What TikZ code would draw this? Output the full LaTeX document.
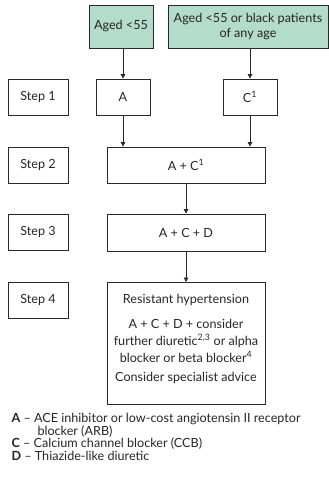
\documentclass[tikz,border=0pt]{standalone}
\usepackage{fontspec}
\setmainfont{Lato}
\usetikzlibrary{arrows.meta}
\definecolor{agegreen}{RGB}{179,220,202}
\definecolor{linegray}{RGB}{40,40,40}
\begin{document}
\begin{tikzpicture}[x=1pt,y=-1pt,
  box/.style={draw=linegray,line width=0.8pt,inner sep=0pt},
  agebox/.style={box,fill=agegreen},
  arr/.style={draw=linegray,line width=0.8pt,-{Triangle[length=4.5pt,width=4.5pt]}},
  lbl/.style={font=\fontsize{12.6}{15}\selectfont,text=black!85}]
\useasboundingbox (0,0) rectangle (329,493);
% age boxes
\node[agebox,minimum width=64pt,minimum height=43pt,lbl] (age1) at (121,26.5) {Aged <55};
\node[agebox,minimum width=160pt,minimum height=43pt,lbl,align=center] (age2) at (248,26.5) {Aged <55 or black patients\\of any age};
% step labels
\node[box,minimum width=60pt,minimum height=36pt,lbl] (s1) at (38,97) {Step 1};
\node[box,minimum width=60pt,minimum height=36pt,lbl] (s2) at (38,165) {Step 2};
\node[box,minimum width=60pt,minimum height=36pt,lbl] (s3) at (38,232.5) {Step 3};
\node[box,minimum width=60pt,minimum height=36pt,lbl] (s4) at (38,300) {Step 4};
% step 1 boxes
\node[box,minimum width=54pt,minimum height=36pt,lbl] (a) at (123,97) {A};
\node[box,minimum width=54pt,minimum height=36pt,lbl] (c) at (250,97) {C\textsuperscript{1}};
% step 2..4
\node[box,minimum width=158pt,minimum height=36pt,lbl] (ac) at (186,165) {A + C\textsuperscript{1}};
\node[box,minimum width=158pt,minimum height=37pt,lbl] (acd) at (186,232.5) {A + C + D};
\node[box,minimum width=158pt,minimum height=122pt,anchor=north] (res) at (186,282) {};
\node[lbl,anchor=base] (r1) at (186,303) {Resistant hypertension};
\node[lbl,anchor=base] (r2) at (186,328) {A + C + D + consider};
\node[lbl,anchor=base] (r3) at (186,345) {further diuretic\textsuperscript{2,3} or alpha};
\node[lbl,anchor=base] (r4) at (186,362) {blocker or beta blocker\textsuperscript{4}};
\node[lbl,anchor=base] (r5) at (186,381) {Consider specialist advice};
% arrows
\draw[arr] (age1.south -| a.north) -- (a.north);
\draw[arr] (age2.south -| c.north) -- (c.north);
\draw[arr] (a.south) -- (a.south |- ac.north);
\draw[arr] (c.south) -- (c.south |- ac.north);
\draw[arr] (ac.south) -- (acd.north);
\draw[arr] (acd.south) -- (res.north);
% legend
\node[lbl,anchor=base west] (la) at (8,422) {\textbf{A} – ACE inhibitor or low-cost angiotensin II receptor};
\node[lbl,anchor=base west] (la2) at (34,435) {blocker (ARB)};
\node[lbl,anchor=base west] (lc) at (8,447) {\textbf{C} – Calcium channel blocker (CCB)};
\node[lbl,anchor=base west] (ld) at (8,460) {\textbf{D} – Thiazide-like diuretic};
\end{tikzpicture}
\end{document}
